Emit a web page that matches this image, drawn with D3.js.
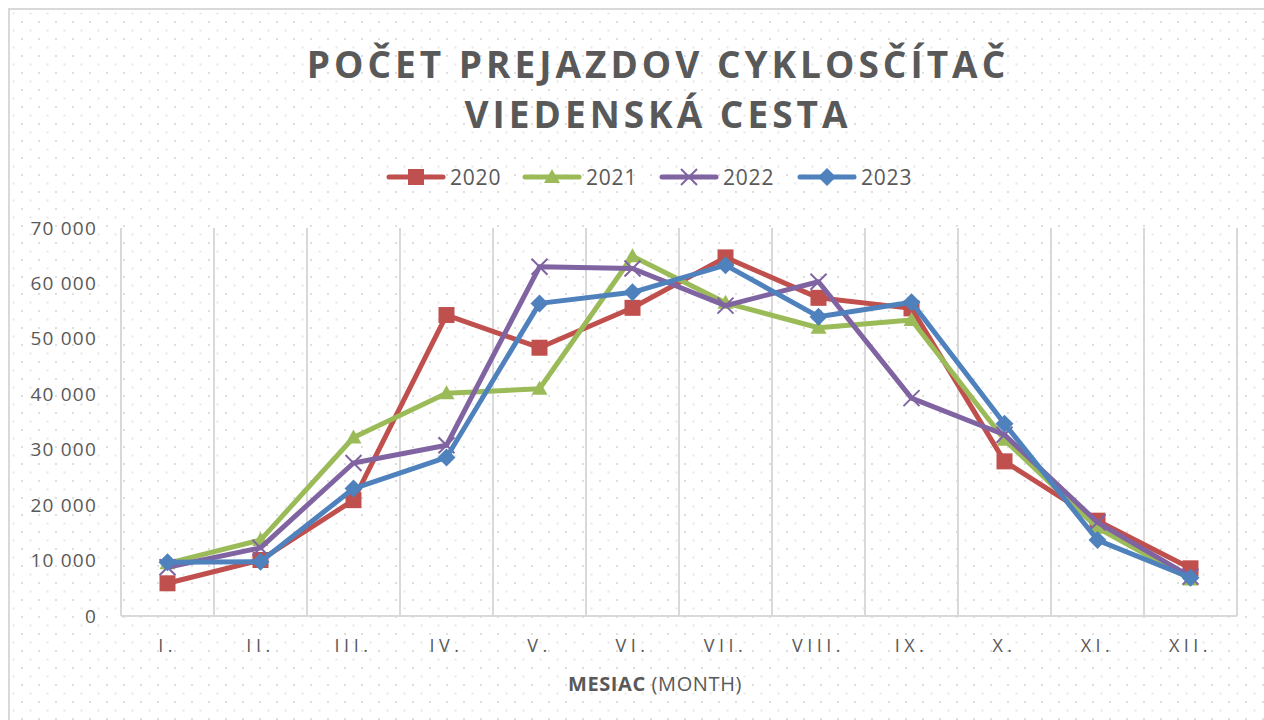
<!DOCTYPE html>
<html>
<head>
<meta charset="utf-8">
<script src="https://cdn.jsdelivr.net/npm/d3@7"></script>
<style>
  body { margin: 0; background: #fff; }
  svg { display: block; font-family: 'Open Sans', sans-serif; }
</style>
</head>
<body>
<div id="chart"></div>
<script>
//data
const months = ['I.', 'II.', 'III.', 'IV.', 'V.', 'VI.', 'VII.', 'VIII.', 'IX.', 'X.', 'XI.', 'XII.'];
const years = ['2020', '2021', '2022', '2023'];
const v2020 = [5900, 10100, 20900, 54300, 48400, 55600, 64700, 57400, 55500, 27900, 17200, 8600];
const v2021 = [9500, 13700, 32200, 40200, 41000, 64900, 56500, 52000, 53400, 31800, 15900, 6600];
const v2022 = [8800, 12300, 27600, 30800, 63000, 62700, 56000, 60300, 39300, 32700, 16900, 7100];
const v2023 = [9700, 9800, 23000, 28600, 56400, 58400, 63300, 54000, 56600, 34700, 13700, 6900];
const yTicks = [0, 10000, 20000, 30000, 40000, 50000, 60000, 70000];

const width = 1264, height = 720;
const margin = {top: 228, left: 121, right: 27, bottom: 104};
const txt = '#595959';

//series setup
const series = [
    {name: years[0], values: v2020, color: '#C0504D', marker: 'square'},
    {name: years[1], values: v2021, color: '#9BBB59', marker: 'triangle'},
    {name: years[2], values: v2022, color: '#8064A2', marker: 'x'},
    {name: years[3], values: v2023, color: '#4F81BD', marker: 'diamond'}
];

let svg = d3.select('#chart')
    .append('svg')
    .attr('width', width)
    .attr('height', height);

//dotted background pattern
let pat = svg.append('defs').append('pattern')
    .attr('id', 'dots')
    .attr('patternUnits', 'userSpaceOnUse')
    .attr('width', 17)
    .attr('height', 17);
pat.append('rect').attr('x', 4).attr('y', 4).attr('width', 2).attr('height', 2).attr('fill', '#dedede');
pat.append('rect').attr('x', 12.5).attr('y', 12.5).attr('width', 2).attr('height', 2).attr('fill', '#e8e8e8');

svg.append('rect')
    .attr('x', 9).attr('y', 9)
    .attr('width', width).attr('height', height)
    .attr('fill', 'url(#dots)')
    .attr('stroke', '#d9d9d9')
    .attr('stroke-width', 2);

//scales
let x = d3.scaleBand()
    .domain(months)
    .range([margin.left, width - margin.right]);

let y = d3.scaleLinear()
    .domain([0, 70000])
    .range([height - margin.bottom, margin.top]);

//vertical gridlines at category borders
let gridX = months.map(m => x(m)).concat([x.range()[1]]);
svg.append('g')
    .selectAll('line')
    .data(gridX)
    .enter().append('line')
    .attr('x1', d => d).attr('x2', d => d)
    .attr('y1', y(70000)).attr('y2', y(0))
    .attr('stroke', '#d9d9d9')
    .attr('stroke-width', 2);

svg.append('line')
    .attr('x1', x.range()[0]).attr('x2', x.range()[1])
    .attr('y1', y(0)).attr('y2', y(0))
    .attr('stroke', '#d9d9d9')
    .attr('stroke-width', 2);

//y axis labels
let fmt = d => d3.format(',')(d).replace(/,/g, ' ');
let yAxis = svg.append('g')
    .attr('transform', `translate(${margin.left - 21}, 0)`)
    .call(d3.axisLeft(y).tickValues(yTicks).tickFormat(fmt).tickSize(0));
yAxis.select('.domain').remove();
yAxis.selectAll('text')
    .attr('fill', txt)
    .style('font-size', '19px')
    .style('letter-spacing', '1.2px')
    .style('font-family', "'Open Sans', sans-serif");

//x axis labels
let xAxis = svg.append('g')
    .attr('transform', `translate(0, ${y(0) + 20})`)
    .call(d3.axisBottom(x).tickSize(0));
xAxis.select('.domain').remove();
xAxis.selectAll('text')
    .attr('fill', txt)
    .style('font-size', '18px')
    .style('letter-spacing', '4.5px')
    .style('font-family', "'Open Sans', sans-serif");

//x axis title
let xt = svg.append('text')
    .attr('x', 655)
    .attr('y', 691)
    .attr('text-anchor', 'middle')
    .attr('fill', txt)
    .style('font-size', '20px')
    .style('letter-spacing', '0.6px');
xt.append('tspan').attr('font-weight', 'bold').text('MESIAC');
xt.append('tspan').text(' (MONTH)');

//title
let title = svg.append('text')
    .attr('text-anchor', 'middle')
    .attr('fill', txt)
    .style('font-size', '37px')
    .style('font-weight', 'bold')
    .style('letter-spacing', '4px');
title.append('tspan').attr('x', 658).attr('y', 78).text('POČET PREJAZDOV  CYKLOSČÍTAČ');
title.append('tspan').attr('x', 658).attr('y', 128).text('VIEDENSKÁ  CESTA');

//marker drawing
function drawMarker(g, type, color) {
    if (type === 'square') {
        g.append('rect').attr('x', -8).attr('y', -8).attr('width', 16).attr('height', 16).attr('fill', color);
    } else if (type === 'triangle') {
        g.append('path').attr('d', 'M0,-8L8,6L-8,6Z').attr('fill', color);
    } else if (type === 'x') {
        g.append('path').attr('d', 'M-8,-8L8,8M8,-8L-8,8').attr('stroke', color).attr('stroke-width', 2);
    } else {
        g.append('path').attr('d', 'M0,-9L9,0L0,9L-9,0Z').attr('fill', color);
    }
}

let line = d3.line()
    .x((d, i) => x(months[i]) + x.bandwidth() / 2)
    .y(d => y(d));

//lines and markers
series.forEach(function(s) {
    let g = svg.append('g');
    g.append('path')
        .attr('d', line(s.values))
        .attr('fill', 'none')
        .attr('stroke', s.color)
        .attr('stroke-width', 5)
        .attr('stroke-linejoin', 'round');
    g.selectAll('g')
        .data(s.values)
        .enter().append('g')
        .attr('transform', (d, i) => `translate(${x(months[i]) + x.bandwidth() / 2}, ${y(d)})`)
        .each(function() { drawMarker(d3.select(this), s.marker, s.color); });
});

//legend
const legendX = [387, 523, 660, 798];
let legend = svg.append('g');
series.forEach(function(s, i) {
    let lg = legend.append('g').attr('transform', `translate(${legendX[i]}, 177)`);
    lg.append('line')
        .attr('x1', 2).attr('x2', 56)
        .attr('stroke', s.color)
        .attr('stroke-width', 5)
        .attr('stroke-linecap', 'round');
    drawMarker(lg.append('g').attr('transform', 'translate(29, 0)'), s.marker, s.color);
    lg.append('text')
        .attr('x', 63)
        .attr('y', 8)
        .attr('fill', txt)
        .style('font-size', '21px')
        .style('letter-spacing', '0.8px')
        .text(s.name);
});
</script>
</body>
</html>
